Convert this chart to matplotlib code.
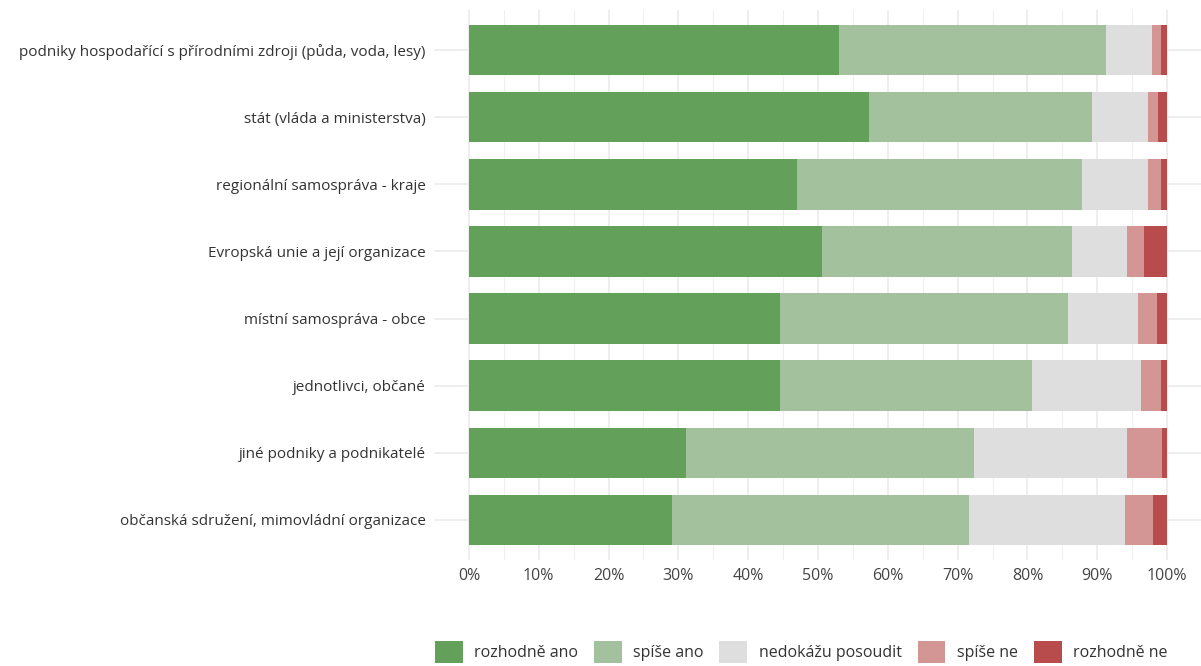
import matplotlib.pyplot as plt
import numpy as np

# categories from top to bottom
categories = [
    'podniky hospodařící s přírodními zdroji (půda, voda, lesy)',
    'stát (vláda a ministerstva)',
    'regionální samospráva - kraje',
    'Evropská unie a její organizace',
    'místní samospráva - obce',
    'jednotlivci, občané',
    'jiné podniky a podnikatelé',
    'občanská sdružení, mimovládní organizace',
]
series = ['rozhodně ano', 'spíše ano', 'nedokážu posoudit', 'spíše ne', 'rozhodně ne']
rozhodne_ano = [53.0, 57.3, 47.0, 50.6, 44.6, 44.6, 31.1, 29.1]
spise_ano = [38.3, 31.9, 40.8, 35.8, 41.2, 36.1, 41.2, 42.5]
nedokazu = [6.6, 8.1, 9.5, 7.9, 10.0, 15.5, 22.0, 22.3]
spise_ne = [1.2, 1.4, 1.8, 2.4, 2.8, 2.9, 5.0, 4.1]
rozhodne_ne = [0.9, 1.3, 0.9, 3.3, 1.4, 0.9, 0.7, 2.0]
colors = ['#63a15b', '#a3c19c', '#dedede', '#d49694', '#b84c4c']

plt.rcParams['font.family'] = ['Open Sans', 'DejaVu Sans']

fig = plt.figure(figsize=(12.01, 6.66), dpi=100)
ax = fig.add_axes([434 / 1201, 1 - 560 / 666, 768 / 1201, 550 / 666])

y = np.arange(len(categories))[::-1]
left = np.zeros(len(categories))
for name, vals, col in zip(series, [rozhodne_ano, spise_ano, nedokazu, spise_ne, rozhodne_ne], colors):
    vals = np.array(vals)
    ax.barh(y, vals, left=left, height=0.75, color=col, label=name, zorder=2)
    left += vals

ax.set_xlim(-5, 105)
ax.set_ylim(-0.6, len(categories) - 0.4)
ax.set_xticks(np.arange(0, 101, 10))
ax.set_xticks(np.arange(5, 100, 10), minor=True)
ax.set_xticklabels([f'{v}%' for v in range(0, 101, 10)], fontsize=11.5, color='#444444')
ax.set_yticks(y)
ax.set_yticklabels(categories, fontsize=11, color='#333333')
ax.tick_params(axis='both', which='both', length=0, pad=6)
ax.grid(True, which='major', color='#ebebeb', linewidth=1.2, zorder=0)
ax.grid(True, which='minor', axis='x', color='#f0f0f0', linewidth=0.8, zorder=0)
for s in ax.spines.values():
    s.set_visible(False)

handles, labels = ax.get_legend_handles_labels()
fig.legend(handles, labels, loc='center', bbox_to_anchor=(801 / 1201, 1 - 652 / 666),
           ncol=5, frameon=False, fontsize=11.5, handlelength=1.75, handleheight=1.75,
           handletextpad=0.7, columnspacing=1.0, labelcolor='#333333')

fig.savefig('out.png', dpi=100)
